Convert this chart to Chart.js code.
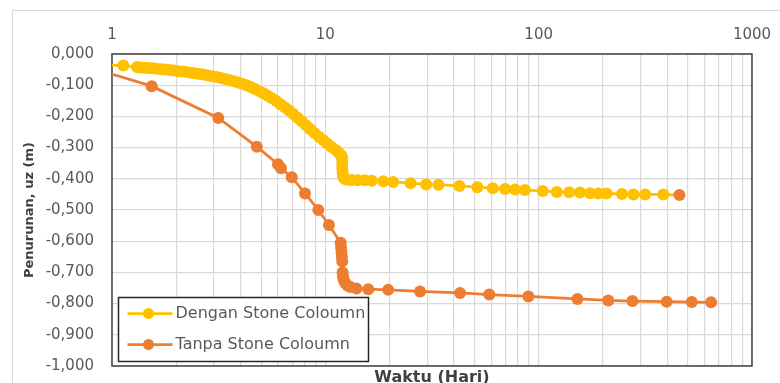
<!DOCTYPE html>
<html><head><meta charset="utf-8">
<script src="https://cdn.jsdelivr.net/npm/chart.js@4/dist/chart.umd.min.js"></script>
<style>html,body{margin:0;padding:0;background:#fff}canvas{display:block}</style>
</head><body>
<canvas id="c" width="780" height="383"></canvas>
<script>
// ---- data ----
const seriesNames = ['Dengan Stone Coloumn', 'Tanpa Stone Coloumn'];

const denganX = [0.9, 1.13, 1.31, 1.35, 1.41, 1.48, 1.55, 1.62, 1.70, 1.78, 1.86, 1.95, 2.04, 2.14, 2.24, 2.34, 2.45, 2.57, 2.69, 2.82, 2.95, 3.09, 3.24, 3.39, 3.55, 3.72, 3.90, 4.08, 4.27, 4.47, 4.68, 4.90, 5.13, 5.37, 5.62, 5.89, 6.17, 6.46, 6.76, 7.08, 7.41, 7.76, 8.13, 8.51, 8.91, 9.33, 9.77, 10.2, 10.7, 11.2, 11.6, 11.9, 12.0, 12.0, 12.0, 12.05, 12.1, 12.3, 12.7, 13.3, 14.2, 15.3, 16.5, 18.7, 20.8, 25.1, 29.7, 33.9, 42.5, 51.6, 60.9, 69.6, 77.5, 86.3, 104.5, 121.6, 139, 156, 174, 190.5, 208, 245.5, 278, 315.5, 384, 457];
const denganY = [-0.034, -0.037, -0.042, -0.043, -0.044, -0.045, -0.046, -0.047, -0.049, -0.050, -0.051, -0.053, -0.055, -0.056, -0.058, -0.060, -0.062, -0.064, -0.066, -0.069, -0.071, -0.074, -0.077, -0.080, -0.083, -0.087, -0.091, -0.095, -0.100, -0.106, -0.112, -0.119, -0.126, -0.134, -0.142, -0.151, -0.161, -0.171, -0.181, -0.192, -0.204, -0.216, -0.228, -0.241, -0.253, -0.265, -0.276, -0.287, -0.298, -0.308, -0.317, -0.326, -0.335, -0.350, -0.365, -0.380, -0.393, -0.400, -0.403, -0.404, -0.405, -0.405, -0.406, -0.408, -0.410, -0.414, -0.418, -0.419, -0.423, -0.427, -0.430, -0.433, -0.434, -0.436, -0.439, -0.442, -0.443, -0.444, -0.446, -0.447, -0.447, -0.449, -0.450, -0.450, -0.450, -0.452];

const tanpaX = [0.85, 1.535, 3.15, 4.77, 6.0, 6.2, 6.96, 8.03, 9.27, 10.4, 11.8, 11.85, 11.9, 11.95, 12.0, 12.05, 12.1, 12.2, 12.4, 12.7, 13.1, 14.0, 15.9, 19.7, 27.8, 42.8, 58.7, 89.5, 152, 212, 275, 398, 522, 643];
const tanpaY = [-0.050, -0.103, -0.205, -0.297, -0.353, -0.366, -0.395, -0.447, -0.500, -0.548, -0.605, -0.620, -0.635, -0.650, -0.665, -0.700, -0.712, -0.724, -0.734, -0.742, -0.747, -0.752, -0.754, -0.756, -0.761, -0.766, -0.771, -0.777, -0.785, -0.790, -0.792, -0.794, -0.795, -0.796];

const xTickLabels = [1, 10, 100, 1000];
const xGridValues = [1, 2, 3, 4, 5, 6, 7, 8, 9, 10, 20, 30, 40, 50, 60, 70, 80, 90, 100, 200, 300, 400, 500, 600, 700, 800, 900, 1000];
const yTickValues = [0, -0.1, -0.2, -0.3, -0.4, -0.5, -0.6, -0.7, -0.8, -0.9, -1.0];

// ---- styles ----
const YELLOW = '#FFC000', ORANGE = '#ED7D31';
const TXT = '#595959';
const FONT = 'DejaVu Sans';

const zip = (xs, ys) => xs.map((x, i) => ({x: x, y: ys[i]}));
const denganPointColors = denganX.map((_, i) => i === denganX.length - 1 ? ORANGE : YELLOW);

const framePlugin = {
  id: 'frame',
  beforeDraw(chart) {
    const ctx = chart.ctx;
    ctx.save();
    ctx.fillStyle = '#fff';
    ctx.fillRect(0, 0, chart.width, chart.height);
    ctx.strokeStyle = '#d9d9d9';
    ctx.lineWidth = 1;
    ctx.strokeRect(12.5, 10.5, 800, 420);
    ctx.restore();
  },
  beforeDatasetsDraw(chart) {
    const a = chart.chartArea, ctx = chart.ctx;
    ctx.save();
    ctx.strokeStyle = '#404040';
    ctx.lineWidth = 1.5;
    ctx.strokeRect(a.left, a.top, a.right - a.left, a.bottom - a.top);
    ctx.restore();
  }
};

const legendPlugin = {
  id: 'boxLegend',
  afterDraw(chart) {
    const ctx = chart.ctx;
    const a = chart.chartArea;
    const bx = a.left + 6.5, by = 297.5, bw = 250, bh = 64;
    ctx.save();
    ctx.fillStyle = '#fff';
    ctx.fillRect(bx, by, bw, bh);
    ctx.strokeStyle = '#262626';
    ctx.lineWidth = 1.5;
    ctx.strokeRect(bx, by, bw, bh);
    chart.data.datasets.forEach((ds, i) => {
      const y = by + 16 + i * 31;
      ctx.strokeStyle = ds.borderColor;
      ctx.lineWidth = 2.75;
      ctx.beginPath();
      ctx.moveTo(bx + 9, y);
      ctx.lineTo(bx + 54, y);
      ctx.stroke();
      ctx.fillStyle = ds.borderColor;
      ctx.beginPath();
      ctx.arc(bx + 30, y, 5.5, 0, Math.PI * 2);
      ctx.fill();
      ctx.fillStyle = TXT;
      ctx.font = '16px "' + FONT + '"';
      ctx.textBaseline = 'middle';
      ctx.textAlign = 'left';
      ctx.fillText(ds.label, bx + 57, y);
    });
    ctx.restore();
  }
};

new Chart(document.getElementById('c'), {
  type: 'line',
  data: {
    datasets: [
      {
        label: seriesNames[0],
        data: zip(denganX, denganY),
        borderColor: YELLOW,
        backgroundColor: YELLOW,
        pointBackgroundColor: denganPointColors,
        pointBorderWidth: 0,
        pointRadius: 6,
        borderWidth: 2.75,
        tension: 0,
        xAxisID: 'x', yAxisID: 'y'
      },
      {
        label: seriesNames[1],
        data: zip(tanpaX, tanpaY),
        borderColor: ORANGE,
        backgroundColor: ORANGE,
        pointBackgroundColor: ORANGE,
        pointBorderWidth: 0,
        pointRadius: 6,
        borderWidth: 2.75,
        tension: 0,
        xAxisID: 'x', yAxisID: 'y'
      }
    ]
  },
  options: {
    responsive: false,
    animation: false,
    devicePixelRatio: 1,
    layout: {padding: {left: 0, right: 28, top: 0, bottom: 0}},
    plugins: {legend: {display: false}, tooltip: {enabled: false}},
    scales: {
      x: {
        type: 'logarithmic', position: 'top', min: 1, max: 1000,
        afterBuildTicks: s => { s.ticks = xGridValues.map(v => ({value: v})); },
        afterFit: s => { s.height = 54; s.paddingLeft = 0; s.paddingRight = 0; },
        grid: {color: '#d9d9d9', lineWidth: 1.2, drawTicks: false},
        border: {display: false},
        ticks: {
          autoSkip: false, maxRotation: 0, minRotation: 0, padding: 10,
          color: TXT, font: {family: FONT, size: 15},
          callback: v => xTickLabels.includes(v) ? String(v) : ''
        }
      },
      x2: {
        type: 'logarithmic', position: 'bottom', min: 1, max: 1000,
        grid: {display: false}, border: {display: false}, ticks: {display: false},
        afterFit: s => { s.height = 17; s.paddingLeft = 0; s.paddingRight = 0; },
        title: {display: true, text: 'Waktu (Hari)', color: '#404040',
          font: {family: FONT, size: 16, weight: 'bold', lineHeight: 0.6}, padding: 0}
      },
      y: {
        min: -1, max: 0,
        afterBuildTicks: s => { s.ticks = yTickValues.map(v => ({value: v})); },
        afterFit: s => { s.width = 112; s.paddingTop = 0; s.paddingBottom = 0; },
        grid: {color: '#d9d9d9', lineWidth: 1.2, drawTicks: false},
        border: {display: false},
        ticks: {
          padding: 18, color: TXT, font: {family: FONT, size: 15},
          callback: v => Math.abs(v) < 1e-9 ? '0,000' : v.toFixed(3).replace('.', ',')
        },
        title: {display: true, text: 'Penurunan, uz (m)', color: '#404040',
          font: {family: FONT, size: 13, weight: 'bold'}, padding: {top: 21.6, bottom: 0}}
      }
    }
  },
  plugins: [framePlugin, legendPlugin]
});
</script>
</body></html>
